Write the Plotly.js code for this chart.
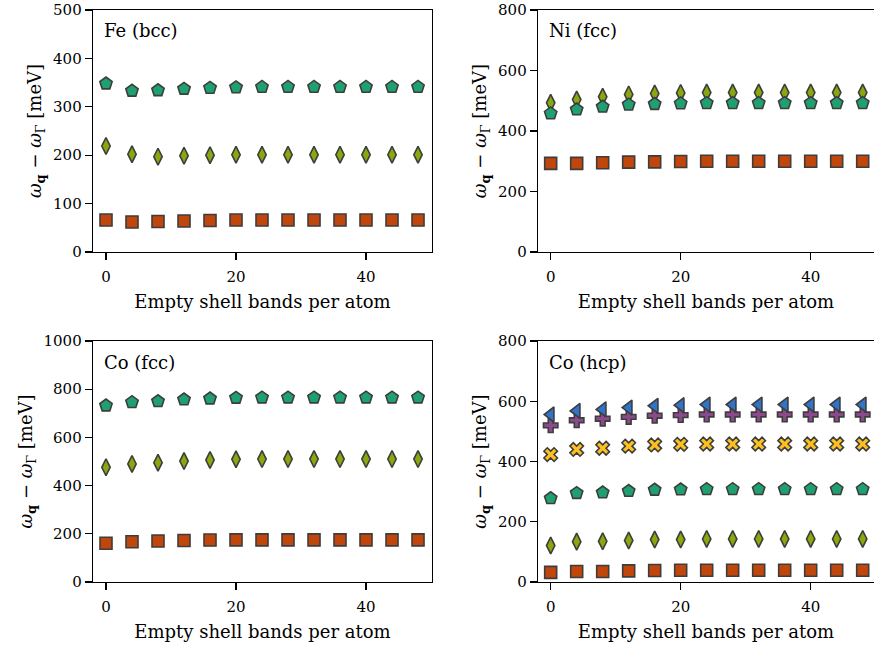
<!DOCTYPE html>
<html>
<head>
<meta charset="utf-8">
<script src="https://cdn.plot.ly/plotly-3.0.1.min.js"></script>
<style>html,body{margin:0;padding:0;background:#fff;}#chart{width:874px;height:647px;}</style>
</head>
<body>
<div id="chart"></div>
<script>
const emptyBands = [0, 4, 8, 12, 16, 20, 24, 28, 32, 36, 40, 44, 48];

const feSquare   = [66, 62, 63, 64, 65, 66, 66, 66, 66, 66, 66, 66, 66];
const feDiamond  = [219, 202, 197, 199, 200, 201, 201, 201, 201, 201, 201, 201, 201];
const fePentagon = [348, 333, 334, 337, 339, 340, 341, 341, 341, 341, 341, 341, 341];

const niSquare   = [293, 293, 295, 297, 298, 299, 300, 300, 300, 300, 300, 300, 300];
const niDiamond  = [493, 504, 513, 521, 524, 526, 527, 527, 527, 527, 527, 527, 527];
const niPentagon = [458, 471, 480, 487, 489, 491, 492, 492, 492, 492, 492, 492, 492];

const cofSquare   = [161, 167, 170, 172, 174, 175, 175, 175, 175, 175, 175, 175, 175];
const cofDiamond  = [476, 490, 495, 502, 506, 509, 510, 510, 510, 510, 510, 510, 510];
const cofPentagon = [732, 746, 750, 757, 761, 764, 765, 765, 765, 765, 765, 765, 765];

const cohSquare   = [32, 35, 35, 37, 38, 39, 39, 39, 39, 39, 39, 39, 39];
const cohDiamond  = [121, 134, 135, 138, 141, 141, 143, 143, 143, 143, 143, 143, 143];
const cohPentagon = [278, 295, 297, 302, 306, 307, 308, 308, 308, 308, 308, 308, 308];
const cohX        = [423, 440, 444, 451, 455, 457, 458, 458, 458, 458, 458, 458, 458];
const cohPlus     = [520, 537, 542, 548, 552, 554, 556, 556, 556, 556, 556, 556, 556];
const cohTriangle = [556, 568, 573, 579, 585, 587, 589, 589, 589, 589, 589, 589, 589];

const panelLabels = ["Fe (bcc)", "Ni (fcc)", "Co (fcc)", "Co (hcp)"];
const xTitle = "Empty shell bands per atom";
const yTitle =
  '<span style="font-size:18px;font-style:italic">ω</span>' +
  '<sub style="font-size:13px"><span style="font-size:13px;font-weight:bold">q</span></sub>' +
  '<span style="font-size:18px"> − </span>' +
  '<span style="font-size:18px;font-style:italic">ω</span>' +
  '<sub style="font-size:13px">Γ</sub>' +
  '<span style="font-size:18px"> [meV]</span>';

const styles = {
  square:   {symbol: "square",        size: 12, color: "#c1460b"},
  diamond:  {symbol: "diamond-tall",  size: 12, color: "#88a80e"},
  pentagon: {symbol: "pentagon",      size: 13, color: "#1fa070"},
  x:        {symbol: "x",             size: 12, color: "#fcc020"},
  plus:     {symbol: "cross",         size: 12, color: "#8c4a8c"},
  triangle: {symbol: "triangle-left", size: 13, color: "#2f74c8"}
};

function tr(y, kind, ax) {
  const s = styles[kind];
  return {
    x: emptyBands, y: y, type: "scatter", mode: "markers",
    xaxis: "x" + (ax === 1 ? "" : ax), yaxis: "y" + (ax === 1 ? "" : ax),
    marker: {symbol: s.symbol, size: s.size, color: s.color, line: {color: "#3d3d3d", width: 1.6}},
    showlegend: false, hoverinfo: "skip"
  };
}

const data = [
  tr(feSquare, "square", 1), tr(feDiamond, "diamond", 1), tr(fePentagon, "pentagon", 1),
  tr(niSquare, "square", 2), tr(niDiamond, "diamond", 2), tr(niPentagon, "pentagon", 2),
  tr(cofSquare, "square", 3), tr(cofDiamond, "diamond", 3), tr(cofPentagon, "pentagon", 3),
  tr(cohSquare, "square", 4), tr(cohDiamond, "diamond", 4), tr(cohPentagon, "pentagon", 4),
  tr(cohX, "x", 4), tr(cohPlus, "plus", 4), tr(cohTriangle, "triangle", 4)
];

const W = 874, H = 647;
const FONT = "DejaVu Serif, serif";
const tickSz = 15;
const titleSz = 18;

function xax(x0, x1, range, anchor, mirror) {
  return {
    domain: [x0 / W, x1 / W], range: range, anchor: anchor,
    tickvals: [0, 20, 40], ticktext: ["0", "20", "40"],
    ticks: "outside", ticklen: 7, tickwidth: 1.3, tickcolor: "#000",
    ticklabelstandoff: 4,
    showline: true, linecolor: "#000", linewidth: 1.3, mirror: mirror,
    showgrid: false, zeroline: false,
    tickfont: {family: FONT, size: tickSz, color: "#000"},
    title: {text: xTitle, font: {family: FONT, size: titleSz, color: "#000"}, standoff: 10}
  };
}
function yax(y0, y1, range, dtick, anchor, mirror) {
  return {
    domain: [1 - y1 / H, 1 - y0 / H], range: range, anchor: anchor, dtick: dtick,
    ticks: "outside", ticklen: 7, tickwidth: 1.3, tickcolor: "#000",
    showline: true, linecolor: "#000", linewidth: 1.3, mirror: mirror,
    showgrid: false, zeroline: false,
    tickfont: {family: FONT, size: tickSz, color: "#000"},
    title: {text: yTitle, font: {family: FONT, size: titleSz, color: "#000"}, standoff: 6}
  };
}

const layout = {
  width: W, height: H,
  margin: {l: 0, r: 0, t: 0, b: 0},
  paper_bgcolor: "#fff", plot_bgcolor: "#fff",
  font: {family: FONT, size: titleSz, color: "#000"},
  xaxis:  xax(93, 432, [-2.0, 50.15], "y", true),
  yaxis:  yax(10, 252, [0, 500], 100, "x", true),
  xaxis2: xax(538, 874, [-1.95, 49.74], "y2", true),
  yaxis2: yax(10, 252, [0, 800], 200, "x2", false),
  xaxis3: xax(93, 432, [-2.0, 50.15], "y3", true),
  yaxis3: yax(341, 582, [0, 1000], 200, "x3", true),
  xaxis4: xax(538, 874, [-1.95, 49.74], "y4", true),
  yaxis4: yax(341, 582, [0, 800], 200, "x4", false),
  annotations: [
    {text: panelLabels[0], x: 102 / W, y: 1 - 30 / H},
    {text: panelLabels[1], x: 547 / W, y: 1 - 30 / H},
    {text: panelLabels[2], x: 102 / W, y: 1 - 362 / H},
    {text: panelLabels[3], x: 547 / W, y: 1 - 362 / H}
  ].map(a => Object.assign(a, {xref: "paper", yref: "paper", xanchor: "left", yanchor: "middle",
    showarrow: false, font: {family: FONT, size: titleSz, color: "#000"}}))
};

Plotly.newPlot("chart", data, layout, {staticPlot: true, displayModeBar: false});
</script>
</body>
</html>
